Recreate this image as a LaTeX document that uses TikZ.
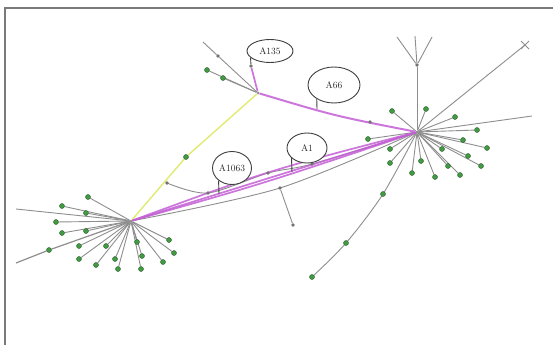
\documentclass[tikz,border=0pt]{standalone}
\usetikzlibrary{shapes.geometric,backgrounds,calc}
\definecolor{edgegray}{HTML}{8E8E8E}
\definecolor{dotgreen}{HTML}{449A44}
\definecolor{purp}{HTML}{C45FD6}
\definecolor{yel}{HTML}{E2EA70}
\definecolor{framegray}{HTML}{7A7A7A}
\begin{document}
\begin{tikzpicture}[x=1pt,y=-1pt,
  edge/.style={draw=edgegray, line width=0.9pt},
  purpline/.style={draw=purp, line width=1.7pt, opacity=0.85},
  yelline/.style={draw=yel, line width=1.4pt},
  dot/.style={circle, fill=dotgreen, draw=dotgreen!60!black, line width=0.4pt, inner sep=0pt, minimum size=5pt},
  gdot/.style={circle, fill=black!55, inner sep=0pt, minimum size=3.6pt},
  hub/.style={circle, fill=edgegray, inner sep=0pt, minimum size=3pt},
  balloon/.style={ellipse, draw=black!75, line width=0.9pt, inner sep=0pt, fill=white,
    font=\fontsize{9.5}{10}\selectfont, text=black!85},
  tail/.style={draw=black!75, line width=0.9pt},
  frameline/.style={draw=framegray, line width=2pt}]
\useasboundingbox (0,0) rectangle (553,345);

% hubs
\node[hub] (L) at (131,221) {};
\node[hub] (R) at (417,132) {};
\node[hub] (T) at (258,93) {};

% left hub dots
\foreach \x/\y [count=\i] in {88/197,62/206,86/213,56/222,62/233,86/231,79/246,79/259,96/265,106/246,115/259,118/269,137/242,142/256,141/269,163/262,169/240,174/253}
  \node[dot] (l\i) at (\x,\y) {};
\coordinate (le1) at (16,209);
\coordinate (le2) at (16,263);
\node[dot] (lw) at (49,250) {};

% right hub dots
\foreach \x/\y [count=\i] in {392/111,426/109,455/117,477/130,463/140,487/148,368/139,390/149,390/163,412/173,421/161,435/177,442/149,448/166,460/175,468/156,481/166}
  \node[dot] (r\i) at (\x,\y) {};
\node[gdot] (fk) at (417,65) {};
\coordinate (f1) at (397,37);
\coordinate (f2) at (415,36);
\coordinate (f3) at (432,37);
\coordinate (rx) at (525,45);
\coordinate (re) at (532,116);
\node[dot] (d1) at (383,194) {};
\node[dot] (d2) at (346,243) {};
\node[dot] (d3) at (312,277) {};
\node[gdot] (rp) at (370,122) {};

% top hub
\coordinate (te) at (203,42);
\node[gdot] (t1) at (218,56) {};
\node[dot] (t2) at (207,70) {};
\node[dot] (t3) at (223,78) {};
\node[gdot] (n135) at (251,66) {};

% middle
\node[gdot] (m1) at (167,183) {};
\node[gdot] (m2) at (208,193) {};
\node[gdot] (m3) at (268,173) {};
\node[gdot] (m5) at (312,164) {};
\node[gdot] (m6) at (280,188) {};
\node[gdot] (m7) at (293,225) {};
\node[dot] (y1) at (186,157) {};

% balloons
\node[balloon, minimum width=46pt, minimum height=23pt] (a135) at (270,51) {A135};
\node[balloon, minimum width=52pt, minimum height=36pt] (a66) at (334,85) {A66};
\node[balloon, minimum width=40pt, minimum height=30pt] (a1) at (307,148) {A1};
\node[balloon, minimum width=39pt, minimum height=33pt] (a1063) at (232,168) {A1063};
\coordinate (t66) at (317,109);
\coordinate (tA1) at (292,172);
\coordinate (tA1063) at (219,194);

\begin{pgfonlayer}{background}
  \fill[white] (0,0) rectangle (553,345);
  \draw[frameline] (5,345) -- (5,8) -- (553,8);
  % left hub
  \foreach \i in {1,...,18} \draw[edge] (L) -- (l\i);
  \draw[edge] (L) -- (le1);
  \draw[edge, line width=1.2pt] (L) -- (lw) -- (le2);
  % right hub
  \foreach \i in {1,...,17} \draw[edge] (R) -- (r\i);
  \draw[edge] (R) -- (fk);
  \draw[edge] (fk) -- (f1);
  \draw[edge] (fk) -- (f2);
  \draw[edge] (fk) -- (f3);
  \draw[edge] (R) -- (rx);
  \draw[edge] ($(rx)+(-4,-4)$) -- ($(rx)+(4,4)$);
  \draw[edge] ($(rx)+(-4,4)$) -- ($(rx)+(4,-4)$);
  \draw[edge] (R) -- (re);
  \draw[edge] plot[smooth] coordinates {(R) (d1) (d2) (d3)};
  % top hub
  \draw[edge] (T) -- (t1) -- (te);
  \draw[edge] (T) -- (t2);
  \draw[edge] (T) -- (t3);
  % middle gray lines
  \draw[edge] plot[smooth] coordinates {(m1) (m2) (m3) (m5) (R)};
  \draw[edge] plot[smooth] coordinates {(L) (m6) (R)};
  \draw[edge] (m6) -- (m7);
  % yellow
  \draw[yelline] (L) -- (y1) -- (T);
  % purple
  \draw[purpline] (L) -- (R);
  \draw[purpline] (L) .. controls (262,184) .. (R);
  \draw[purpline] (L) .. controls (270,170) .. (R);
  \draw[purpline, line width=2pt] (T) .. controls (335,116) .. (R);
  \draw[purpline] (T) -- (n135);
  % balloon tails
  \draw[tail] (a135.199) -- (n135);
  \draw[tail] (a66.219) -- (t66);
  \draw[tail] (a1.213) -- (tA1);
  \draw[tail] (a1063.223) -- (tA1063);
\end{pgfonlayer}
\end{tikzpicture}
\end{document}
